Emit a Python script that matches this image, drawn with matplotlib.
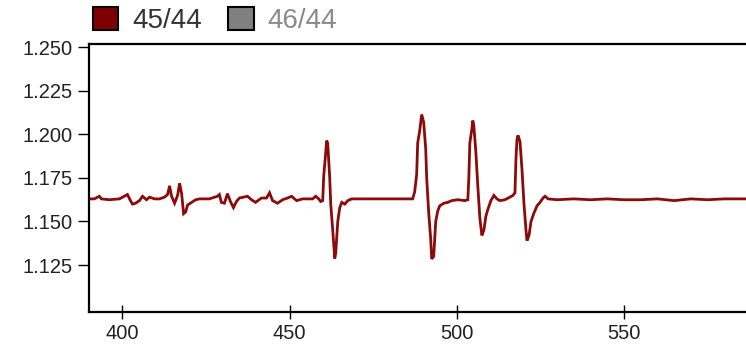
import matplotlib

matplotlib.use("Agg")
import matplotlib.pyplot as plt
from matplotlib.patches import Patch

plt.rcParams["font.family"] = ["Liberation Sans", "DejaVu Sans"]

# trace of the 45/44 ratio
x = [390.0, 391.6, 393.1, 393.7, 396.1, 399.1, 401.5, 402.4, 403.0, 403.9,
     405.1, 406.0, 407.2, 408.1, 409.6, 411.1, 412.6, 413.5, 414.1, 414.7,
     415.6, 416.5, 417.1, 417.7, 418.3, 418.9, 419.5, 420.7, 421.9, 423.1,
     426.0, 428.4, 429.0, 429.6, 430.5, 431.4, 432.3, 433.2, 434.1, 435.0,
     437.4, 438.6, 439.8, 441.6, 443.1, 444.0, 444.9, 446.4, 447.9, 449.4,
     450.6, 452.1, 453.9, 456.9, 457.8, 458.7, 459.3, 459.9, 460.2, 460.8,
     461.1, 461.4, 462.0, 462.3, 462.9, 463.5, 463.8, 464.4, 465.0, 465.6,
     466.5, 467.4, 468.6, 475.0, 482.9, 486.8, 487.4, 488.0, 488.3, 488.9,
     489.5, 490.1, 490.7, 491.0, 491.6, 492.2, 492.5, 493.1, 493.7, 494.3,
     494.9, 496.1, 497.3, 498.5, 500.3, 502.4, 503.3, 503.6, 503.9, 504.5,
     504.8, 505.1, 505.7, 506.3, 506.9, 507.5, 508.1, 508.7, 509.3, 510.2,
     511.1, 512.0, 512.9, 514.4, 515.9, 516.8, 517.4, 517.7, 518.0, 518.3,
     518.9, 519.5, 520.1, 520.7, 521.0, 521.6, 522.2, 523.1, 524.0, 524.9,
     525.8, 526.4, 527.3, 530.0, 535.0, 540.0, 545.0, 550.0, 555.0, 560.0,
     565.0, 570.0, 575.0, 580.0, 587.0]
r45 = [1.1630, 1.1630, 1.1645, 1.1630, 1.1625, 1.1630, 1.1655, 1.1620, 1.1600, 1.1605,
       1.1620, 1.1645, 1.1625, 1.1640, 1.1630, 1.1630, 1.1640, 1.1655, 1.1705, 1.1645,
       1.1605, 1.1650, 1.1720, 1.1660, 1.1545, 1.1555, 1.1595, 1.1610, 1.1625, 1.1630,
       1.1630, 1.1645, 1.1655, 1.1610, 1.1605, 1.1660, 1.1615, 1.1580, 1.1615, 1.1635,
       1.1645, 1.1625, 1.1610, 1.1635, 1.1635, 1.1665, 1.1620, 1.1605, 1.1625, 1.1635,
       1.1645, 1.1620, 1.1630, 1.1630, 1.1645, 1.1630, 1.1615, 1.1620, 1.1760, 1.1900,
       1.1965, 1.1950, 1.1750, 1.1600, 1.1450, 1.1287, 1.1320, 1.1500, 1.1580, 1.1610,
       1.1600, 1.1620, 1.1630, 1.1630, 1.1630, 1.1630, 1.1670, 1.1770, 1.1950, 1.2020,
       1.2115, 1.2070, 1.1920, 1.1750, 1.1550, 1.1400, 1.1285, 1.1300, 1.1500, 1.1560,
       1.1590, 1.1605, 1.1610, 1.1620, 1.1625, 1.1620, 1.1625, 1.1750, 1.1950, 1.2030,
       1.2080, 1.2050, 1.1900, 1.1700, 1.1520, 1.1420, 1.1450, 1.1530, 1.1570, 1.1620,
       1.1650, 1.1630, 1.1620, 1.1625, 1.1640, 1.1650, 1.1665, 1.1860, 1.1970, 1.1995,
       1.1960, 1.1800, 1.1600, 1.1450, 1.1390, 1.1420, 1.1500, 1.1550, 1.1590, 1.1610,
       1.1635, 1.1645, 1.1630, 1.1625, 1.1630, 1.1625, 1.1630, 1.1625, 1.1625, 1.1630,
       1.1620, 1.1630, 1.1625, 1.1630, 1.1630]

series = ["45/44", "46/44"]
colors = ["#7f0000", "#808080"]
text_colors = ["#333333", "#8a8a8a"]
yticks = [1.125, 1.150, 1.175, 1.200, 1.225, 1.250]
xticks = [400, 450, 500, 550]

fig = plt.figure(figsize=(7.46, 3.47), dpi=100)
ax = fig.add_axes([0.1193, 0.1009, 0.8807, 0.7723])
ax.plot(x, r45, color="#8b0a0a", lw=2.0, solid_joinstyle="miter")

ax.set_xlim(390, 586.5)
ax.set_ylim(1.098, 1.252)
ax.set_xticks(xticks)
ax.set_yticks(yticks)
ax.set_yticklabels([f"{v:.3f}" for v in yticks])
ax.spines["right"].set_visible(False)
for s in ["left", "bottom", "top"]:
    ax.spines[s].set_linewidth(1.6)
ax.tick_params(axis="y", direction="out", length=8, width=1, pad=4,
               labelsize=14.5, labelcolor="#222222")
ax.tick_params(axis="x", direction="inout", length=10, width=1, pad=4,
               labelsize=14.5, labelcolor="#222222")

handles = [Patch(facecolor=c, edgecolor="black", lw=1.5) for c in colors]
leg = fig.legend(handles, series, loc="center left", bbox_to_anchor=(0.124, 0.941),
                 ncol=2, frameon=False, fontsize=20, borderpad=0, borderaxespad=0,
                 handlelength=0.93, handleheight=0.93, handletextpad=0.5,
                 columnspacing=0.93)
for t, c in zip(leg.get_texts(), text_colors):
    t.set_color(c)

fig.savefig("out.png", dpi=100)
